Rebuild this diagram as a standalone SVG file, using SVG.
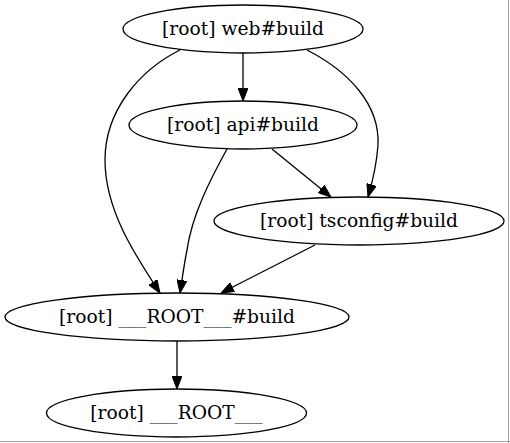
<svg xmlns="http://www.w3.org/2000/svg" width="510" height="443" viewBox="0 0 510 443">
<style>
.n ellipse{fill:none;stroke:#000;stroke-width:1.3}
.n text{font-family:"DejaVu Serif",serif;font-size:18.67px;text-anchor:middle;fill:#000}
.e path{fill:none;stroke:#000;stroke-width:1.3;marker-end:url(#ah)}
</style>
<defs>
<marker id="ah" viewBox="0 0 13 10" refX="13" refY="5" markerWidth="13" markerHeight="10" markerUnits="userSpaceOnUse" orient="auto">
<path d="M0,0 L13,5 L0,10 z" fill="#000" stroke="#000" stroke-width="1"/>
</marker>
</defs>
<rect width="510" height="443" fill="#fff"/>
<line x1="508.5" y1="0" x2="508.5" y2="443" stroke="#a0a0a0" stroke-width="1"/>
<line x1="0" y1="441.5" x2="510" y2="441.5" stroke="#a0a0a0" stroke-width="1"/>
<g class="e" id="edges">
<path d="M243,53 L243,101"/>
<path d="M307,50 C348,71 380,104 378,145 C377,160 373,180 368,197"/>
<path d="M180,50 C140,70 105,110 105,160 C105,210 135,255 160,293"/>
<path d="M272,149 L331,197"/>
<path d="M227,149 C210,180 192,215 187,250 C184,265 182,280 180,293"/>
<path d="M315,245 L221,293"/>
<path d="M177,341 L177,389"/>
</g>
<g class="n" id="web"><ellipse cx="243" cy="29" rx="120" ry="24"/><text x="243" y="34.5">[root] web#build</text></g>
<g class="n" id="api"><ellipse cx="243" cy="125" rx="114" ry="24"/><text x="243" y="130.5">[root] api#build</text></g>
<g class="n" id="tsconfig"><ellipse cx="359" cy="221" rx="145" ry="24"/><text x="359" y="226.5">[root] tsconfig#build</text></g>
<g class="n" id="rootbuild"><ellipse cx="177" cy="317" rx="172" ry="24"/><text x="177" y="322.5">[root] ___ROOT___#build</text></g>
<g class="n" id="root"><ellipse cx="176.5" cy="413" rx="130" ry="24"/><text x="176.5" y="418.5">[root] ___ROOT___</text></g>
</svg>
